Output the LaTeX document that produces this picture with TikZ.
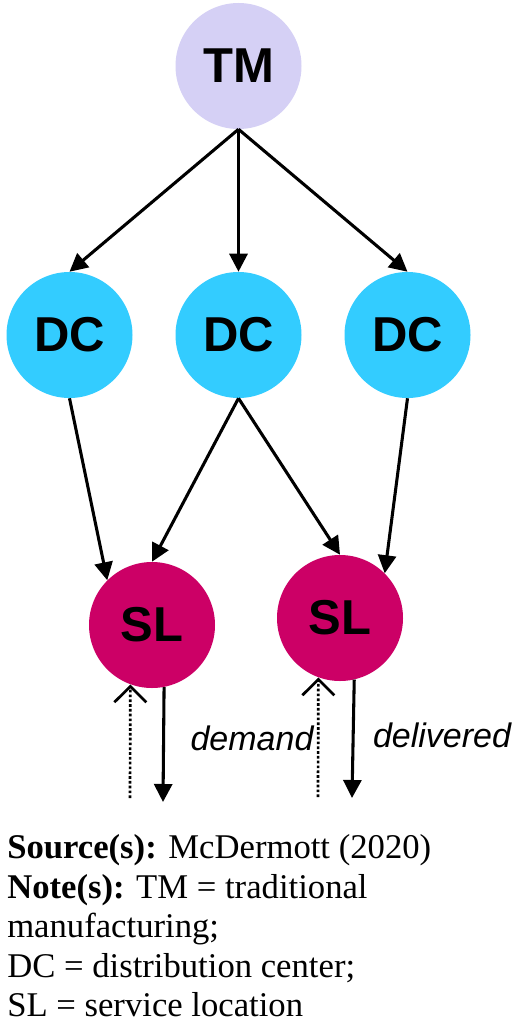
\documentclass[tikz,border=0pt]{standalone}
\usepackage{fontspec}
\setmainfont{Liberation Serif}
\newfontfamily\arialf{Liberation Sans}
\usetikzlibrary{arrows.meta}
\definecolor{tmcol}{RGB}{213,208,245}
\definecolor{dccol}{RGB}{51,204,255}
\definecolor{slcol}{RGB}{204,0,102}
\begin{document}
\begin{tikzpicture}[x=0.75pt,y=-0.75pt,
  circ/.style={circle,minimum size=94.5pt,inner sep=0pt,font=\arialf\bfseries\fontsize{36.75pt}{40pt}\selectfont},
  tmnode/.style={circ,fill=tmcol},
  dcnode/.style={circ,fill=dccol},
  slnode/.style={circ,fill=slcol},
  flow/.style={line width=2.3pt,-{Triangle[length=13.5pt,width=13.5pt]}},
  demandflow/.style={line width=2pt,dash pattern=on 2pt off 1.6pt,-{Straight Barb[length=12pt,width=24pt,line width=2pt]}},
  lbl/.style={font=\arialf\itshape\fontsize{25.5pt}{28pt}\selectfont,inner sep=0pt},
  captext/.style={anchor=base west,inner sep=0pt,font=\fontsize{26pt}{30pt}\selectfont}]
\useasboundingbox[fill=white] (0,0) rectangle (520,1027);
\node[tmnode] (tm) at (238.5,66) {TM};
\node[dcnode] (dc1) at (69.5,335) {DC};
\node[dcnode] (dc2) at (238.5,335) {DC};
\node[dcnode] (dc3) at (407.5,335) {\raisebox{-3pt}{DC}};
\node[slnode] (sl1) at (152,625) {SL};
\node[slnode] (sl2) at (340,618) {SL};
\draw[flow] (tm.south) -- (dc1.north);
\draw[flow] (tm.south) -- (dc2.north);
\draw[flow] (tm.south) -- (dc3.north);
\draw[flow] (dc1.south) -- (sl1.135);
\draw[flow] (dc2.south) -- (sl1.north);
\draw[flow] (dc2.south) -- (sl2.north);
\draw[flow] (dc3.south) -- (sl2.45);
\coordinate (d1) at (130,798);
\coordinate (o1) at (163,802);
\coordinate (d2) at (318,797);
\coordinate (o2) at (352,798);
\draw[demandflow] (d1) -- (sl1.250);
\draw[flow] (sl1.281) -- (o1);
\draw[demandflow] (d2) -- (sl2.250);
\draw[flow] (sl2.283) -- (o2);
\node[lbl] (ldem) at (252,738) {demand};
\node[lbl] (ldel) at (442,735) {delivered};
\node[captext] (c1) at (7,858) {\textbf{Source(s):} McDermott (2020)};
\node[captext] (c2) at (7,898) {\textbf{Note(s):} TM = traditional};
\node[captext] (c3) at (7,937) {manufacturing;};
\node[captext] (c4) at (7,977) {DC = distribution center;};
\node[captext] (c5) at (7,1016) {SL = service location};
\end{tikzpicture}
\end{document}
